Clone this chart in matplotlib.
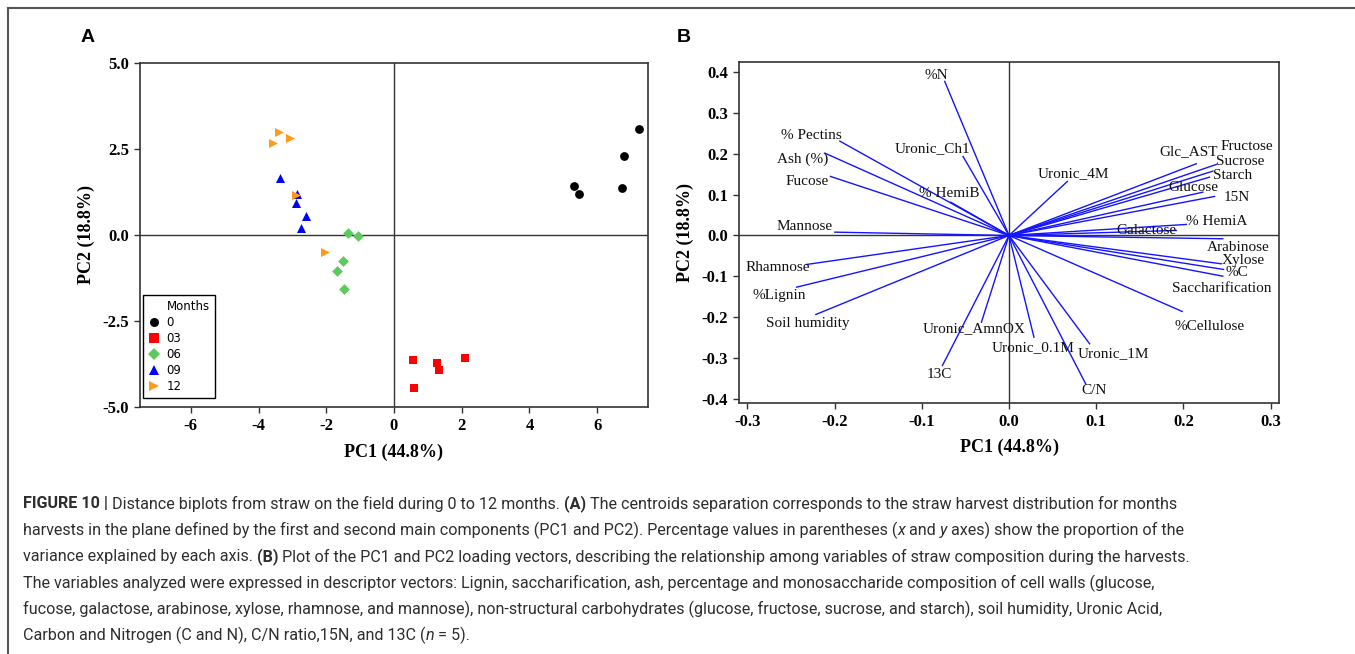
import numpy as np
import matplotlib
matplotlib.use("Agg")
import matplotlib.pyplot as plt
from matplotlib.lines import Line2D

plt.rcParams['axes.unicode_minus'] = False

# ---- panel A: PCA scores by harvest month ----
months = ['0', '03', '06', '09', '12']
pc1_scores = [
    [7.22, 6.80, 6.74, 5.31, 5.46],
    [0.57, 0.60, 1.26, 1.32, 2.09],
    [-1.36, -1.05, -1.50, -1.68, -1.47],
    [-3.37, -2.86, -2.88, -2.61, -2.75],
    [-3.41, -3.07, -3.56, -2.89, -2.04],
]
pc2_scores = [
    [3.09, 2.31, 1.38, 1.42, 1.18],
    [-3.63, -4.44, -3.73, -3.93, -3.57],
    [0.07, -0.02, -0.75, -1.04, -1.56],
    [1.66, 1.19, 0.93, 0.56, 0.19],
    [2.98, 2.81, 2.66, 1.17, -0.50],
]

# ---- panel B: loading vectors ----
variables = ['%N', '% Pectins', 'Ash (%)', 'Fucose', 'Uronic_Ch1', '% HemiB', 'Mannose',
             'Rhamnose', '%Lignin', 'Soil humidity', '13C', 'Uronic_AmnOX', 'Uronic_0.1M',
             'Uronic_1M', 'C/N', '%Cellulose', 'Arabinose', 'Xylose', '%C', 'Saccharification',
             'Uronic_4M', 'Glc_AST', 'Fructose', 'Sucrose', 'Starch', 'Glucose', '15N',
             '% HemiA', 'Galactose']
pc1_loadings = [-0.0737, -0.1939, -0.2111, -0.2046, -0.0527, -0.0668, -0.1997,
                -0.2321, -0.2435, -0.2214, -0.0763, -0.0316, 0.0286,
                0.0924, 0.0879, 0.1986, 0.2451, 0.2433, 0.2459, 0.2451,
                0.0669, 0.2147, 0.2376, 0.2337, 0.2299, 0.2222, 0.2356,
                0.2032, 0.1917]
pc2_loadings = [0.3775, 0.2311, 0.2017, 0.1446, 0.1936, 0.0816, 0.0081,
                -0.0711, -0.1267, -0.1936, -0.3186, -0.2125, -0.2493,
                -0.2654, -0.3635, -0.1863, -0.0081, -0.0694, -0.0833, -0.0998,
                0.1324, 0.1757, 0.1740, 0.1576, 0.1429, 0.1061, 0.0956,
                0.0270, 0.0123]

# label offsets from the vector tip, in pixels (dx right, dy up)
label_offsets = {
    '%N': (-8, 6), '% Pectins': (-28, 6), 'Ash (%)': (-22, -6), 'Fucose': (-23, -5),
    'Uronic_Ch1': (-31, 8), '% HemiB': (-1, 9), 'Mannose': (-30, 6),
    'Rhamnose': (-29, -3), '%Lignin': (-17, -8), 'Soil humidity': (-8, -9),
    '13C': (-3, -9), 'Uronic_AmnOX': (-7, -6), 'Uronic_0.1M': (-1, -10),
    'Uronic_1M': (24, -10), 'C/N': (8, -7), '%Cellulose': (27, -15),
    'Arabinose': (15, -9), 'Xylose': (22, 3), '%C': (13, -3), 'Saccharification': (-1, -12),
    'Uronic_4M': (6, 8), 'Glc_AST': (-8, 12), 'Fructose': (31, 18), 'Sucrose': (27, 10),
    'Starch': (23, 2), 'Glucose': (-9, 5), '15N': (22, -1), '% HemiA': (30, 3),
    'Galactose': (-30, 0),
}

caption_lines = [
    [("FIGURE 10 |", 'bold', 'normal'),
     (" Distance biplots from straw on the field during 0 to 12 months.", 'normal', 'normal'),
     (" (A)", 'bold', 'normal'),
     (" The centroids separation corresponds to the straw harvest distribution for months", 'normal', 'normal')],
    [("harvests in the plane defined by the first and second main components (PC1 and PC2). Percentage values in parentheses (", 'normal', 'normal'),
     ("x", 'normal', 'italic'), (" and", 'normal', 'normal'), (" y", 'normal', 'italic'),
     (" axes) show the proportion of the", 'normal', 'normal')],
    [("variance explained by each axis.", 'normal', 'normal'), (" (B)", 'bold', 'normal'),
     (" Plot of the PC1 and PC2 loading vectors, describing the relationship among variables of straw composition during the harvests.", 'normal', 'normal')],
    [("The variables analyzed were expressed in descriptor vectors: Lignin, saccharification, ash, percentage and monosaccharide composition of cell walls (glucose,", 'normal', 'normal')],
    [("fucose, galactose, arabinose, xylose, rhamnose, and mannose), non-structural carbohydrates (glucose, fructose, sucrose, and starch), soil humidity, Uronic Acid,", 'normal', 'normal')],
    [("Carbon and Nitrogen (C and N), C/N ratio,15N, and 13C (", 'normal', 'normal'), ("n", 'normal', 'italic'),
     (" = 5).", 'normal', 'normal')],
]

W, H = 1355, 654
SERIF = 'Liberation Serif'
CAP_FONT = ['Roboto', 'DejaVu Sans']
AX_COLOR = '#333333'

fig = plt.figure(figsize=(W / 100, H / 100), dpi=100)


def style_axes(ax):
    for sp in ax.spines.values():
        sp.set_color(AX_COLOR)
        sp.set_linewidth(1.2)
    ax.tick_params(direction='out', length=4, width=1, color=AX_COLOR, top=False, right=False,
                   labelsize=12, pad=4)
    for lab in ax.get_xticklabels() + ax.get_yticklabels():
        lab.set_fontfamily(SERIF)
        lab.set_fontweight('bold')


# ---- panel A ----
axA = fig.add_axes([140 / W, 1 - 407 / H, 508 / W, 344 / H])
axA.axhline(0, color=AX_COLOR, lw=1, zorder=1)
axA.axvline(0, color=AX_COLOR, lw=1, zorder=1)
colors = ['black', '#ff0000', '#5ccb5f', '#0000ff', '#ff9a1a']
markers = ['o', 's', 'D', '^', '>']
sizes = [40, 34, 30, 42, 42]
handles = [Line2D([], [], linestyle='none', marker='', label='Months')]
for m, c, mk, s, xs, ys in zip(months, colors, markers, sizes, pc1_scores, pc2_scores):
    axA.scatter(xs, ys, c=c, marker=mk, s=s, linewidths=0, zorder=3)
    handles.append(Line2D([], [], linestyle='none', marker=mk, color=c, markersize=6.5,
                          markeredgewidth=0, label=m))
axA.set_xlim(-7.5, 7.5)
axA.set_ylim(-5, 5)
axA.set_xticks([-6, -4, -2, 0, 2, 4, 6])
axA.set_yticks([-5, -2.5, 0, 2.5, 5])
axA.set_yticklabels(['-5.0', '-2.5', '0.0', '2.5', '5.0'])
style_axes(axA)
axA.set_xlabel('PC1 (44.8%)', fontfamily=SERIF, fontweight='bold', fontsize=13, labelpad=7)
axA.set_ylabel('PC2 (18.8%)', fontfamily=SERIF, fontweight='bold', fontsize=13, labelpad=5)
leg = axA.legend(handles=handles, loc='lower left', bbox_to_anchor=(0.006, 0.026),
                 borderaxespad=0, prop={'family': 'DejaVu Sans', 'size': 8.5},
                 handlelength=1.0, handletextpad=0.6, labelspacing=0.26, borderpad=0.4,
                 fancybox=False, framealpha=1)
leg.get_frame().set_edgecolor('black')
leg.get_frame().set_linewidth(1)

# ---- panel B ----
axB = fig.add_axes([739 / W, 1 - 403 / H, 540 / W, 341 / H])
axB.axhline(0, color=AX_COLOR, lw=1, zorder=1)
axB.axvline(0, color=AX_COLOR, lw=1, zorder=1)
for name, x, y in zip(variables, pc1_loadings, pc2_loadings):
    axB.plot([0, x], [0, y], color='#1414ff', lw=1, zorder=2)
    dx, dy = label_offsets[name]
    axB.annotate(name, (x, y), xytext=(dx * 0.72, dy * 0.72), textcoords='offset points',
                 ha='center', va='center', fontfamily=SERIF, fontsize=11, color='#111111',
                 zorder=3)
axB.set_xlim(-0.3095, 0.3095)
axB.set_ylim(-0.4105, 0.425)
axB.set_xticks(np.arange(-0.3, 0.31, 0.1))
axB.set_xticklabels(['-0.3', '-0.2', '-0.1', '0.0', '0.1', '0.2', '0.3'])
axB.set_yticks(np.arange(-0.4, 0.41, 0.1))
axB.set_yticklabels(['-0.4', '-0.3', '-0.2', '-0.1', '0.0', '0.1', '0.2', '0.3', '0.4'])
style_axes(axB)
axB.set_xlabel('PC1 (44.8%)', fontfamily=SERIF, fontweight='bold', fontsize=13, labelpad=6)
axB.set_ylabel('PC2 (18.8%)', fontfamily=SERIF, fontweight='bold', fontsize=13, labelpad=5)

# panel letters
fig.text(88 / W, 1 - 37 / H, 'A', fontfamily='Liberation Sans', fontweight='bold', fontsize=14,
         ha='center', va='center')
fig.text(684 / W, 1 - 37 / H, 'B', fontfamily='Liberation Sans', fontweight='bold', fontsize=14,
         ha='center', va='center')

# outer frame (top and left edges)
fig.add_artist(Line2D([8 / W, 1], [1 - 8 / H, 1 - 8 / H], transform=fig.transFigure,
                      color='#555555', lw=1.5))
fig.add_artist(Line2D([8 / W, 8 / W], [0, 1 - 8 / H], transform=fig.transFigure,
                      color='#555555', lw=1.5))

# caption, drawn segment by segment so bold/italic pieces can sit inline
renderer = fig.canvas.get_renderer()
y_px = 504
for parts in caption_lines:
    x_px = 23
    for text, weight, style in parts:
        t = fig.text(x_px / W, 1 - y_px / H, text, fontfamily=CAP_FONT, fontsize=11.6,
                     fontweight=weight, fontstyle=style, color='#2e2e2e', ha='left', va='center')
        x_px += t.get_window_extent(renderer).width
    y_px += 26.3

fig.savefig('out.png', dpi=100)
